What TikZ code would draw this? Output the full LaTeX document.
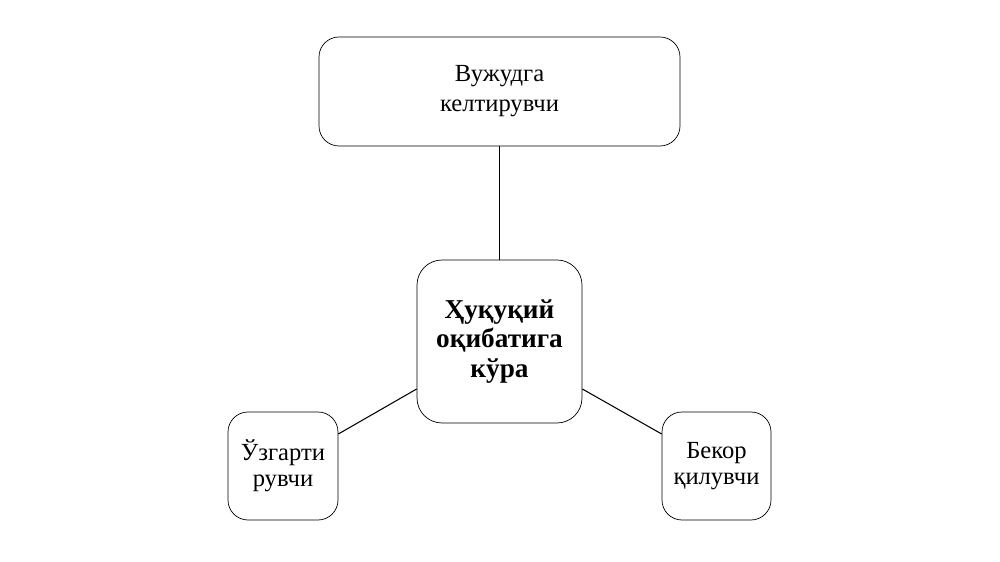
\documentclass[tikz,border=0pt]{standalone}
\usepackage{fontspec}
\setmainfont{Liberation Serif}
\usepackage{tikz}
\usetikzlibrary{arrows.meta, calc}
\tikzset{
    box/.style={draw, rounded corners=0.4cm, align=center, font=\fontsize{14}{17}\selectfont, inner sep=0pt},
    link/.style={draw, line width=0.6pt}
}

\begin{document}
\begin{tikzpicture}
            \useasboundingbox (0,0) rectangle (20,-11.24);
            \node[box, minimum width=7.22cm, minimum height=2.18cm] (top) at (9.99,-1.83) {Вужудга\\келтирувчи};
            \node[box, rounded corners=0.5cm, minimum width=3.3cm, minimum height=3.26cm, font=\fontsize{15.5}{17}\selectfont\bfseries] (kind) at (9.99,-6.83) {Ҳуқуқий\\оқибатига\\кўра};
            \node[box, minimum width=2.2cm, minimum height=2.16cm, font=\fontsize{14}{15}\selectfont] (change) at (5.66,-9.32) {Ўзгарти\\рувчи};
            \node[box, minimum width=2.18cm, minimum height=2.16cm, font=\fontsize{14}{15}\selectfont] (cancel) at (14.33,-9.32) {Бекор\\қилувчи};
            \draw[link] (top) to (kind);
            \draw[link] ([yshift=-0.95cm]kind.west) to ([yshift=0.64cm]change.east);
            \draw[link] ([yshift=-0.95cm]kind.east) to ([yshift=0.64cm]cancel.west);
        \end{tikzpicture}
\end{document}
